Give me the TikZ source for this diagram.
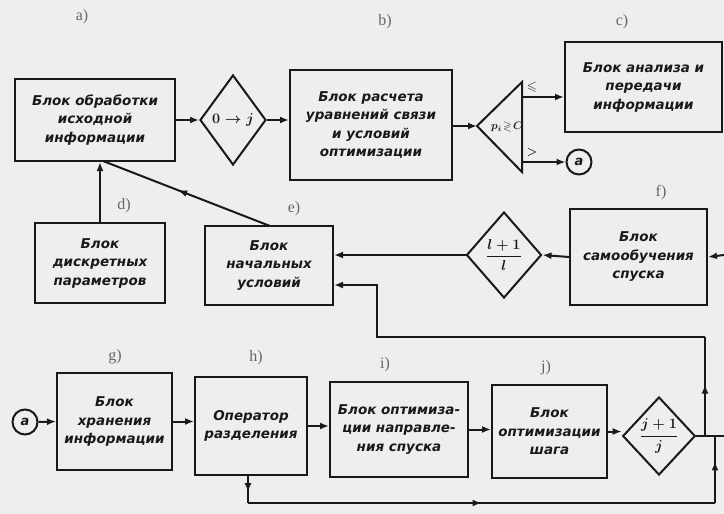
\documentclass[tikz,border=0pt]{standalone}
\usepackage{amsmath,amssymb}
\usepackage{fontspec}
\setmainfont{DejaVu Sans}
\newfontfamily\lblfont{Liberation Serif}
\usetikzlibrary{arrows.meta,decorations.markings,shapes.geometric}
\definecolor{paper}{RGB}{238,238,236}
\definecolor{ink}{RGB}{25,25,25}
\begin{document}
\begin{tikzpicture}[x=1pt,y=-1pt,
  line/.style={draw=ink, line width=2pt},
  arr/.style={line, -{Latex[length=9pt,width=7pt]}},
  midarr/.style={line, postaction={decorate}, decoration={markings, mark=at position #1 with {\arrow{Latex[length=9pt,width=7pt]}}}},
  box/.style={line, rectangle, align=center, inner sep=0pt, text=ink,
    font=\fontsize{13.5}{18.5}\selectfont\bfseries\itshape},
  dia/.style={line, diamond, inner sep=0pt, aspect=1, text=ink,
    font=\fontsize{14}{15}\selectfont\bfseries\boldmath},
  circ/.style={line, circle, inner sep=0pt, minimum size=25pt, text=ink,
    font=\fontsize{13}{13}\selectfont\bfseries\itshape},
  lbl/.style={text=black!60, font=\lblfont\fontsize{16}{16}\selectfont},
  sml/.style={text=ink, font=\fontsize{13}{13}\selectfont\boldmath}
]
\fill[paper] (0,0) rectangle (724,514);
\useasboundingbox (0,0) rectangle (724,514);

% top row
\node[box, minimum width=160, minimum height=82] (a) at (95,120)
  {Блок обработки\\исходной\\информации};
\node[dia, minimum width=66, minimum height=90] (d1) at (233,120) {$0\to j$};
\node[box, minimum width=162, minimum height=110] (b) at (371,125)
  {Блок расчета\\уравнений связи\\и условий\\оптимизации};
\coordinate (tt) at (477,126);
\coordinate (ttop) at (522,82);
\coordinate (tbot) at (522,172);
\draw[line, line join=miter] (tt) -- (ttop) -- (tbot) -- cycle;
\node[text=ink, font=\fontsize{11}{11}\selectfont\boldmath] (cmp) at (507,127) {$p_i\!\gtrless\! C$};
\coordinate (o1) at (522,97);
\coordinate (o2) at (522,162);
\node[box, minimum width=157, minimum height=90] (c) at (643.5,87)
  {Блок анализа и\\передачи\\информации};
\node[circ] (ca) at (579,162) {a};
\node[sml] (le) at (532,87) {$\leqslant$};
\node[sml] (gt) at (532,152) {$>$};

% middle row
\node[box, minimum width=130, minimum height=80] (d) at (100,263)
  {Блок\\дискретных\\параметров};
\node[box, minimum width=128, minimum height=79] (e) at (269,265.5)
  {Блок\\начальных\\условий};
\node[dia, minimum width=75, minimum height=86] (d2) at (504,255)
  {$\dfrac{l+1}{l}$};
\node[box, minimum width=137, minimum height=96] (f) at (638.5,257)
  {Блок\\самообучения\\спуска};

% bottom row
\node[circ] (cb) at (25,422) {a};
\node[box, minimum width=115, minimum height=97] (g) at (114.5,421.5)
  {Блок\\хранения\\информации};
\node[box, minimum width=112, minimum height=98] (h) at (251,426)
  {Оператор\\разделения};
\node[box, minimum width=138, minimum height=95] (i) at (399,429.5)
  {Блок оптимиза-\\ции направле-\\ния спуска};
\node[box, minimum width=115, minimum height=93] (j) at (549.5,431.5)
  {Блок\\оптимизации\\шага};
\node[dia, minimum width=72, minimum height=78] (d3) at (659,436)
  {$\dfrac{j+1}{j}$};

% labels
\node[lbl] (la) at (82,17) {a)};
\node[lbl] (lb) at (385,22) {b)};
\node[lbl] (lc) at (622,22) {c)};
\node[lbl] (ld) at (124,206) {d)};
\node[lbl] (lE) at (294,209) {e)};
\node[lbl] (lf) at (661,193) {f)};
\node[lbl] (lg) at (115,357) {g)};
\node[lbl] (lh) at (256,358) {h)};
\node[lbl] (li) at (385,365) {i)};
\node[lbl] (lj) at (546,368) {j)};

% connectors top
\draw[arr] (a.east) -- (d1.west);
\draw[arr] (d1.east) -- (d1.east -| b.west);
\draw[arr] (b.east |- tt) -- (tt);
\draw[arr] (o1) -- (o1 -| c.west);
\draw[arr] (o2) -- (ca.west);

% middle connectors
\draw[arr] (d.north) -- (d.north |- a.south);
\coordinate (eTop) at (270,226);
\coordinate (aBot) at (103,161);
\draw[midarr=0.55] (eTop) -- (aBot);
\coordinate (fin) at (724,255);
\draw[arr] (fin) -- (f.east);
\draw[arr] (f.west) -- (d2.east);
\draw[arr] (d2.west) -- (d2.west -| e.east);

% loop to e
\coordinate (L1) at (705,436);
\coordinate (L2) at (705,337);
\coordinate (L3) at (377,337);
\coordinate (L4) at (377,285);
\draw[midarr=0.52] (L1) -- (L2);
\draw[arr] (L2) -- (L3) -- (L4) -- (L4 -| e.east);

% bottom connectors
\draw[arr] (cb.east) -- (g.west);
\draw[arr] (g.east) -- (g.east -| h.west);
\draw[arr] (h.east) -- (h.east -| i.west);
\draw[arr] (i.east) -- (i.east -| j.west);
\draw[arr] (j.east) -- (j.east -| d3.west);
\coordinate (R) at (724,436);
\draw[line] (d3.east) -- (R);

\coordinate (B1) at (248,503);
\coordinate (B2) at (715,503);
\coordinate (B3) at (715,436);
\draw[midarr=0.6] (h.south -| B1) -- (B1);
\draw[midarr=0.5] (B1) -- (B2);
\draw[midarr=0.62] (B2) -- (B3);
\end{tikzpicture}
\end{document}
